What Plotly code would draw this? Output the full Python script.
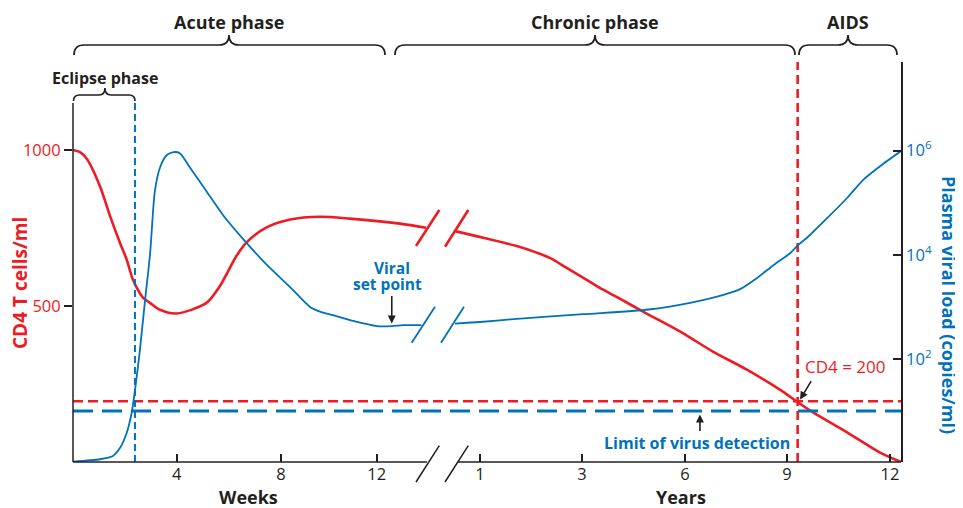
import numpy as np
import plotly.graph_objects as go

RED = "#ED1C24"
BLUE = "#0072BC"
DARK = "#231F20"
FONT = "Open Sans"

# ---------------- data ----------------
# Schematic (broken) time axis: weeks first, then years
week_tick_vals = [4, 8, 12]
year_tick_vals = [1, 3, 6, 9, 12]
week_anchor = [0, 4, 8, 12]
week_anchor_pos = [0, 103.7, 208, 303.7]
year_anchor = [1, 3, 6, 9, 12]
year_anchor_pos = [407, 509, 612, 714, 817]

# CD4 T cells/ml, acute phase (weeks)
cd4_weeks = [0, 0.27, 0.53, 1.04, 1.43, 1.81, 2.07, 2.31, 2.70, 2.97, 3.3, 4.0,
             5.14, 5.65, 6.29, 6.67, 7.43, 8.38, 9.63, 10.88, 12.97, 14.06]
cd4_weeks_val = [1000, 993, 972, 884, 788, 703, 649, 585, 527, 510, 490, 476,
                 510, 563, 660, 703, 751, 777, 786, 780, 764, 751]
# CD4 T cells/ml, chronic phase / AIDS (years)
cd4_years = [0.51, 1.06, 1.72, 2.11, 2.37, 2.70, 3.04, 3.52, 4.01, 4.78, 5.86,
             6.82, 7.82, 8.79, 9.31, 9.76, 10.75, 11.71, 12.32]
cd4_years_val = [740, 719, 692, 671, 654, 622, 590, 558, 529, 482, 418,
                 354, 296, 232, 192, 159, 95, 30, 0]

# Plasma viral load (copies/ml), acute phase (weeks)
vl_weeks = [0, 1.04, 1.54, 1.81, 2.07, 2.26, 2.39, 2.58, 2.78, 2.97, 3.16, 3.36,
            3.61, 3.87, 4.12, 4.50, 5.14, 5.78, 6.55, 7.43, 8.38, 9.21, 9.63,
            10.17, 11.01, 12.01, 12.64, 13.10, 13.87]
vl_weeks_val = [1.07, 1.19, 1.38, 1.95, 3.8, 9.1, 25, 148, 1350, 10000, 170000,
                479000, 813000, 933000, 891000, 479000, 166000, 57500, 20000,
                6610, 2400, 1000, 813, 692, 537, 427, 427, 447, 447]
# Plasma viral load (copies/ml), chronic phase / AIDS (years)
vl_years = [0.51, 1.0, 1.72, 3.04, 4.94, 6.15, 7.13, 7.62, 8.11, 8.60, 9.09,
            9.33, 9.62, 10.75, 11.22, 11.71, 12.32]
vl_years_val = [479, 513, 589, 724, 891, 1200, 1700, 2190, 3550, 6310, 10700,
                15500, 22400, 123000, 275000, 501000, 977000]

cd4_threshold = 195          # "CD4 = 200" line
vl_detection_limit = 10      # limit of virus detection
eclipse_end_week = 2.39
aids_onset_year = 9.31
set_point_week = 12.63
left_axis_top = 1152


def piecewise(v, xs, ps):
    v = np.asarray(v, dtype=float)
    out = np.interp(v, xs, ps)
    s0 = (ps[1] - ps[0]) / (xs[1] - xs[0])
    s1 = (ps[-1] - ps[-2]) / (xs[-1] - xs[-2])
    out = np.where(v < xs[0], ps[0] + (v - xs[0]) * s0, out)
    out = np.where(v > xs[-1], ps[-1] + (v - xs[-1]) * s1, out)
    return out


def wpos(w):
    return piecewise(w, week_anchor, week_anchor_pos)


def ypos(y):
    return piecewise(y, year_anchor, year_anchor_pos)


# ---------------- layout helpers ----------------
# page coordinates of the plot box; the page body adds an 8px offset
OFF = 8
L, R, T, B = 73, 901, 62, 462
W, H = 963 - OFF, 508 - OFF


def px(x):
    return (x - L) / (R - L)


def py(y):
    return (B - y) / (B - T)


fig = go.Figure()

line_red = dict(color=RED, width=2.6, shape="spline", smoothing=0.8)
line_blue = dict(color=BLUE, width=1.8, shape="spline", smoothing=0.7)

fig.add_trace(go.Scatter(x=wpos(cd4_weeks), y=cd4_weeks_val, mode="lines",
                         line=line_red, yaxis="y", hoverinfo="skip"))
fig.add_trace(go.Scatter(x=ypos(cd4_years), y=cd4_years_val, mode="lines",
                         line=line_red, yaxis="y", hoverinfo="skip"))
fig.add_trace(go.Scatter(x=wpos(vl_weeks), y=vl_weeks_val, mode="lines",
                         line=line_blue, yaxis="y2", hoverinfo="skip"))
fig.add_trace(go.Scatter(x=ypos(vl_years), y=vl_years_val, mode="lines",
                         line=line_blue, yaxis="y2", hoverinfo="skip"))

# threshold lines
xfull = [0, R - L]
fig.add_trace(go.Scatter(x=xfull, y=[cd4_threshold] * 2, mode="lines", yaxis="y",
                         line=dict(color=RED, width=2.5, dash="10px,5px"), hoverinfo="skip"))
fig.add_trace(go.Scatter(x=xfull, y=[vl_detection_limit] * 2, mode="lines", yaxis="y2",
                         line=dict(color=BLUE, width=3, dash="20px,9px"), hoverinfo="skip"))
# vertical markers
xe = float(wpos(eclipse_end_week))
fig.add_trace(go.Scatter(x=[xe, xe], y=[0, left_axis_top], mode="lines", yaxis="y",
                         line=dict(color=BLUE, width=2, dash="7px,4px"), hoverinfo="skip"))
xa = float(ypos(aids_onset_year))
fig.add_trace(go.Scatter(x=[xa, xa], y=[0, 1290], mode="lines", yaxis="y",
                         line=dict(color=RED, width=2.6, dash="9px,5px"), hoverinfo="skip"))

shapes = []


def seg(x0, y0, x1, y1, color=DARK, width=1.5):
    shapes.append(dict(type="line", xref="paper", yref="paper",
                       x0=px(x0), y0=py(y0), x1=px(x1), y1=py(y1),
                       line=dict(color=color, width=width), layer="above"))


# axes lines
seg(L, 103, L, B)
seg(L, B, 427, B)
seg(458, B, R, B)
# axis break marks
seg(416, 482, 439.3, 445.7)
seg(445, 482, 468.3, 445.7)
# curve break marks
seg(416, 246, 439.3, 210, RED, 2.6)
seg(445, 246.7, 468.3, 210, RED, 2.6)
seg(411.7, 342.7, 435, 306.7, BLUE, 1.8)
seg(441, 342.7, 464, 306.7, BLUE, 1.8)


def brace(x0, x1, xm, yl, ye, yp, r):
    def P(x, y):
        return f"{px(x):.5f},{py(y):.5f}"
    d = (f"M{P(x0, ye)} Q{P(x0, yl)} {P(x0 + r, yl)} L{P(xm - r, yl)} "
         f"Q{P(xm, yl)} {P(xm, yp)} Q{P(xm, yl)} {P(xm + r, yl)} "
         f"L{P(x1 - r, yl)} Q{P(x1, yl)} {P(x1, ye)}")
    shapes.append(dict(type="path", xref="paper", yref="paper", path=d,
                       line=dict(color=DARK, width=1.7)))


brace(74, 385, 229, 45, 55, 35, 10)
brace(395, 795, 595, 45, 55, 35, 10)
brace(799, 897, 848, 45, 55, 35, 10)
brace(73.5, 135, 105, 95, 101, 88, 6)

annotations = []


def label(text, x, y, size, color=DARK, bold=True, angle=0, yanchor="middle"):
    annotations.append(dict(text=f"<b>{text}</b>" if bold else text,
                            xref="paper", yref="paper", x=px(x), y=py(y),
                            xanchor="center", yanchor=yanchor, showarrow=False,
                            textangle=angle,
                            font=dict(family=FONT, size=size, color=color)))


label("Acute phase", 229, OFF, 18, yanchor="top")
label("Chronic phase", 595, OFF, 18, yanchor="top")
label("AIDS", 848, OFF, 18, yanchor="top")
label("Eclipse phase", 105, 78, 16)
label("Weeks", 248.5, 497, 18)
label("Years", 680.5, 497, 18)
label("CD4 T cells/ml", 20, 283, 19, RED, angle=-90)
label("Plasma viral load (copies/ml)", 949, 305, 18, BLUE, angle=90)
label("Viral", 391.7, 268, 15.5, BLUE)
label("set point", 387.7, 284, 15.5, BLUE)
label("CD4 = 200", 845, 366, 17, RED, bold=False)
label("Limit of virus detection", 697, 443, 16, BLUE)


def arrow(xd, yd, ax, ay):
    annotations.append(dict(text="", x=xd, y=yd, xref="x", yref="y",
                            ax=ax, ay=ay, showarrow=True, arrowhead=2,
                            arrowsize=1, arrowwidth=1.6, arrowcolor=DARK))


arrow(float(wpos(set_point_week)), 444, 0, -29)
arrow(float(ypos(aids_onset_year + 0.07)), 200, 12, -20)
arrow(float(ypos(6.44)), 152, 0, 18)

tickvals = list(wpos(week_tick_vals)) + list(ypos(year_tick_vals))
ticktext = [str(v) for v in week_tick_vals] + [str(v) for v in year_tick_vals]

fig.update_layout(
    width=W, height=H, autosize=False,
    margin=dict(l=L - OFF, r=W - (R - OFF), t=T - OFF, b=H - (B - OFF), pad=0),
    paper_bgcolor="white", plot_bgcolor="white",
    showlegend=False,
    font=dict(family=FONT, color=DARK),
    xaxis=dict(range=[0, R - L], tickvals=tickvals, ticktext=ticktext,
               ticks="inside", ticklen=8, tickwidth=1.5, tickcolor=DARK,
               showline=False, showgrid=False, zeroline=False, automargin=False,
               tickfont=dict(family=FONT, size=16.5, color=DARK)),
    yaxis=dict(range=[0, 1282], tickvals=[500, 1000], ticktext=["500", "1000"],
               ticks="outside", ticklen=8, tickwidth=1.5, tickcolor=DARK,
               showline=False, showgrid=False, zeroline=False, automargin=False,
               tickfont=dict(family=FONT, size=16.5, color=RED)),
    yaxis2=dict(type="log", range=[0.023, 7.70], overlaying="y", side="right",
                tickvals=[1e2, 1e4, 1e6],
                ticktext=["10<sup>2</sup>", "10<sup>4</sup>", "10<sup>6</sup>"],
                ticks="inside", ticklen=8, tickwidth=1.5, tickcolor=DARK,
                showline=True, linecolor=DARK, linewidth=1.5, automargin=False,
                showgrid=False, zeroline=False,
                tickfont=dict(family=FONT, size=16.5, color=BLUE)),
    shapes=shapes,
    annotations=annotations,
)

fig.write_html("out.html")
